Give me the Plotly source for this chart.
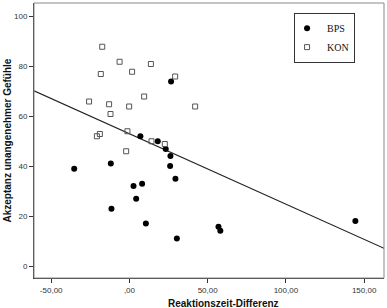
import plotly.graph_objects as go

# BPS (filled circles)
bps_x = [26.6, 7.0, 18.1, 23.2, 26.2, 26.0, -35.3, -11.9, 2.6, 8.1, 4.3, 29.4, -11.5, 10.5, 30.3, 56.9, 58.1, 144.4]
bps_y = [74.0, 52.1, 50.1, 47.0, 44.2, 40.2, 39.1, 41.2, 32.2, 33.1, 27.1, 35.1, 23.1, 17.2, 11.2, 15.9, 14.3, 18.2]

# KON (open squares)
kon_x = [-17.4, -6.3, 13.7, -18.3, 1.7, 29.2, -25.8, 9.4, -13.0, -0.2, -12.1, 42.0, -1.3, -20.8, -18.9, 14.1, 22.6, -2.1]
kon_y = [87.9, 81.9, 81.0, 77.0, 77.9, 76.0, 66.0, 68.0, 64.9, 64.0, 61.0, 64.0, 54.1, 52.1, 53.0, 50.1, 49.0, 46.1]

# regression line (all data)
fit_intercept = 53.1
fit_slope = -0.2816

x_range = [-61.0, 162.7]
y_range = [-4.6, 105.4]

x_ticks = [-50, 0, 50, 100, 150]
x_ticktext = ["-50,00", ",00", "50,00", "100,00", "150,00"]
y_ticks = [0, 20, 40, 60, 80, 100]
y_ticktext = ["0", "20", "40", "60", "80", "100"]

x_title = "Reaktionszeit-Differenz"
y_title = "Akzeptanz unangenehmer Gefühle"

fig = go.Figure()

fit_x = x_range
fit_y = [fit_intercept + fit_slope * v for v in fit_x]
fig.add_trace(go.Scatter(x=fit_x, y=fit_y, mode="lines",
                         line=dict(color="#222222", width=1.2),
                         showlegend=False, hoverinfo="skip"))

fig.add_trace(go.Scatter(x=bps_x, y=bps_y, mode="markers", name="BPS",
                         marker=dict(symbol="circle", size=6, color="black",
                                     line=dict(width=0))))
fig.add_trace(go.Scatter(x=kon_x, y=kon_y, mode="markers", name="KON",
                         marker=dict(symbol="square-open", size=5, color="#555555",
                                     line=dict(width=1))))

tick_font = dict(family="Liberation Sans, Arial", size=8, color="#333333")
title_font = dict(family="Liberation Sans, Arial", size=10, color="#111111")

fig.update_layout(
    width=387, height=308,
    margin=dict(l=34, r=3, t=3, b=30, pad=0),
    paper_bgcolor="white", plot_bgcolor="white",
    xaxis=dict(range=x_range, tickvals=x_ticks, ticktext=x_ticktext, automargin=False,
               showgrid=False, zeroline=False, showline=True, linecolor="#333333",
               linewidth=1, ticks="outside", ticklen=4, tickcolor="#333333",
               tickfont=tick_font),
    yaxis=dict(range=y_range, tickvals=y_ticks, ticktext=y_ticktext, automargin=False,
               showgrid=False, zeroline=False, showline=True, linecolor="#333333",
               linewidth=1, ticks="outside", ticklen=4, tickcolor="#333333",
               tickfont=tick_font),
    legend=dict(x=0.743, y=0.965, xanchor="left", yanchor="top",
                bordercolor="#333333", borderwidth=1, bgcolor="white",
                font=dict(family="Liberation Serif, Times New Roman", size=10, color="#111111"),
                itemwidth=30, tracegroupgap=0, indentation=-8),
    shapes=[dict(type="rect", xref="paper", yref="paper", x0=0, y0=0, x1=1, y1=1,
                 line=dict(color="#888888", width=1))],
    annotations=[
        dict(text="<b>" + x_title + "</b>", xref="paper", yref="paper", x=0.54, y=0,
             xanchor="center", yanchor="middle", yshift=-25, showarrow=False, font=title_font),
        dict(text="<b>" + y_title + "</b>", xref="paper", yref="paper", x=0, y=0.5,
             xanchor="center", yanchor="middle", xshift=-27, textangle=-90,
             showarrow=False, font=title_font),
    ],
)

fig.write_html("out.html", config={"displayModeBar": False},
               post_script="document.body.style.margin='0';")
